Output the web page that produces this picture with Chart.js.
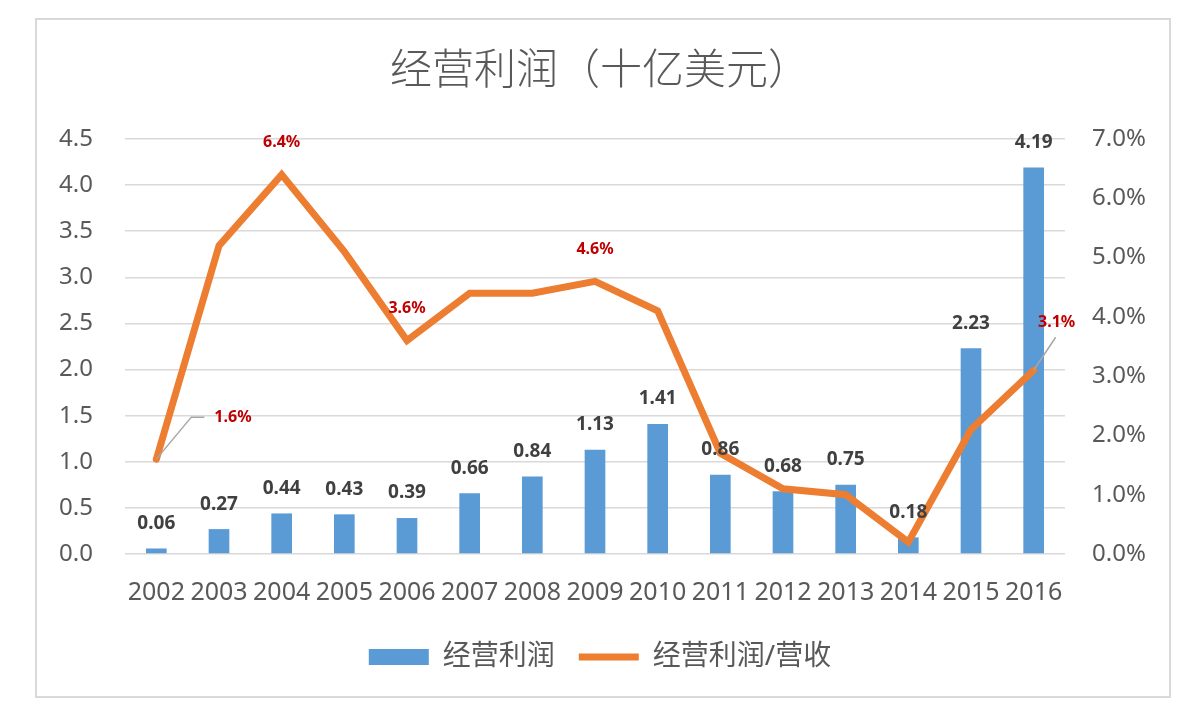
<!DOCTYPE html>
<html>
<head>
<meta charset="utf-8">
<script src="https://cdn.jsdelivr.net/npm/chart.js@4.4.1/dist/chart.umd.min.js"></script>
<style>
  html, body { margin: 0; padding: 0; background: #fff; }
  #wrap { width: 1200px; height: 720px; }
</style>
</head>
<body>
<div id="wrap"><canvas id="chartProfit"></canvas></div>
<script>
  // 数据
  const years = ['2002', '2003', '2004', '2005', '2006', '2007', '2008', '2009', '2010', '2011', '2012', '2013', '2014', '2015', '2016'];
  const profit = [0.06, 0.27, 0.44, 0.43, 0.39, 0.66, 0.84, 1.13, 1.41, 0.86, 0.68, 0.75, 0.18, 2.23, 4.19];
  const margin = [1.6, 5.2, 6.4, 5.1, 3.6, 4.4, 4.4, 4.6, 4.1, 1.7, 1.1, 1.0, 0.2, 2.1, 3.1];

  const FONT = '"Noto Sans", "Noto Sans CJK SC", sans-serif';
  const GREY = '#595959';

  // 外框
  const framePlugin = {
    id: 'frame',
    beforeDraw(chart) {
      const c = chart.ctx;
      c.save();
      c.fillStyle = '#fff';
      c.fillRect(0, 0, chart.width, chart.height);
      c.strokeStyle = '#d9d9d9';
      c.lineWidth = 2;
      c.strokeRect(36, 19, 1134, 678);
      c.restore();
    }
  };

  // 数据标签
  const labelPlugin = {
    id: 'labels',
    afterDatasetsDraw(chart) {
      const c = chart.ctx;
      c.save();
      c.textAlign = 'center';
      c.textBaseline = 'middle';

      // 柱形标签
      c.font = 'bold 19px ' + FONT;
      c.fillStyle = '#404040';
      chart.getDatasetMeta(0).data.forEach((bar, i) => {
        c.fillText(profit[i].toFixed(2), bar.x, bar.y - 25);
      });

      // 折线标签（只显示部分）
      const pts = chart.getDatasetMeta(1).data;
      c.font = 'bold 16px ' + FONT;
      c.fillStyle = '#C00000';
      [2, 4, 7].forEach(i => {
        c.fillText(margin[i].toFixed(1) + '%', pts[i].x, pts[i].y - 32);
      });

      // 带引导线的标签
      c.strokeStyle = '#a6a6a6';
      c.lineWidth = 1.5;
      let p = pts[0];
      c.beginPath();
      c.moveTo(p.x, p.y);
      c.lineTo(p.x + 35, p.y - 42);
      c.lineTo(p.x + 48, p.y - 42);
      c.stroke();
      c.textAlign = 'left';
      c.fillText(margin[0].toFixed(1) + '%', p.x + 58, p.y - 42);

      p = pts[14];
      c.beginPath();
      c.moveTo(p.x, p.y);
      c.lineTo(p.x + 22, p.y - 33);
      c.stroke();
      c.textAlign = 'center';
      c.fillText(margin[14].toFixed(1) + '%', p.x + 23, p.y - 48);
      c.restore();
    }
  };

  const ctx = document.getElementById('chartProfit').getContext('2d');
  new Chart(ctx, {
    data: {
      labels: years,
      datasets: [{
        type: 'bar',
        label: '经营利润',
        data: profit,
        backgroundColor: '#5B9BD5',
        borderWidth: 0,
        barPercentage: 0.33,
        categoryPercentage: 1,
        pointStyle: 'rect',
        yAxisID: 'y',
        order: 1
      }, {
        type: 'line',
        label: '经营利润/营收',
        data: margin,
        borderColor: '#ED7D31',
        backgroundColor: '#ED7D31',
        borderWidth: 7,
        borderCapStyle: 'round',
        borderJoinStyle: 'miter',
        pointRadius: 0,
        pointHoverRadius: 0,
        pointStyle: 'line',
        tension: 0,
        yAxisID: 'y1',
        order: 0
      }]
    },
    options: {
      responsive: true,
      maintainAspectRatio: false,
      devicePixelRatio: 1,
      animation: false,
      layout: { padding: { top: 0, bottom: 39, left: 0, right: 0 } },
      plugins: {
        tooltip: { enabled: false },
        title: {
          display: true,
          text: '经营利润（十亿美元）',
          color: GREY,
          font: { family: FONT, size: 42, weight: 300, lineHeight: 1.2 },
          padding: { top: 47, bottom: 41.6 }
        },
        legend: {
          position: 'bottom',
          labels: {
            usePointStyle: true,
            pointStyleWidth: 60,
            boxHeight: 16,
            padding: 24,
            color: GREY,
            font: { family: FONT, size: 28 },
            sort: (a, b) => a.datasetIndex - b.datasetIndex
          }
        }
      },
      scales: {
        x: {
          grid: { display: false },
          border: { display: false },
          ticks: { color: GREY, font: { family: FONT, size: 25 }, padding: 16, maxRotation: 0 },
          afterFit: s => { s.height = 65; }
        },
        y: {
          position: 'left',
          min: 0,
          max: 4.5,
          ticks: {
            stepSize: 0.5,
            color: GREY,
            padding: 32,
            font: { family: FONT, size: 24 },
            callback: v => v.toFixed(1)
          },
          grid: { color: '#d9d9d9', lineWidth: 1.5, drawTicks: false },
          border: { display: false },
          afterFit: s => { s.width = 125; }
        },
        y1: {
          position: 'right',
          min: 0,
          max: 7,
          ticks: {
            stepSize: 1,
            color: GREY,
            padding: 27,
            font: { family: FONT, size: 24 },
            callback: v => v.toFixed(1) + '%'
          },
          grid: { display: false, drawTicks: false },
          border: { display: false },
          afterFit: s => { s.width = 135; }
        }
      }
    },
    plugins: [framePlugin, labelPlugin]
  });
</script>
</body>
</html>
